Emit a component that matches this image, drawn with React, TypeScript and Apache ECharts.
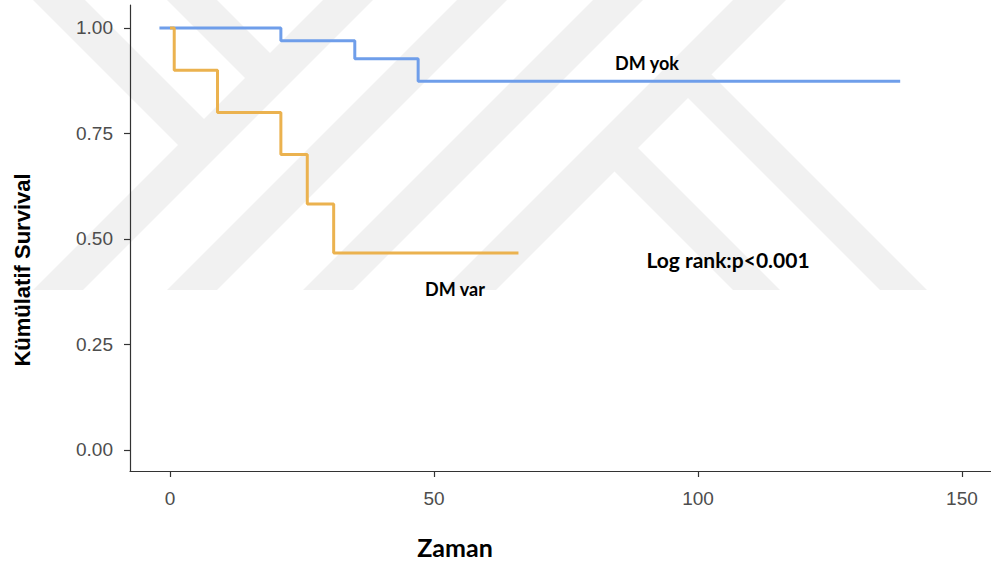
import React, { useEffect, useRef } from "react";
import * as echarts from "echarts";

// Kaplan-Meier step data (time, cumulative survival)
const dmYokTime = [-2, 21, 35, 47, 138.3];
const dmYokSurv = [1, 0.97, 0.927, 0.874, 0.874];
const dmVarTime = [0, 0.8, 9, 21, 26, 31, 66];
const dmVarSurv = [1, 0.9, 0.8, 0.7, 0.583, 0.467, 0.467];

const xTicks = [0, 50, 100, 150];
const yTicks = [0, 0.25, 0.5, 0.75, 1];

const seriesNames = ["DM yok", "DM var"];
const xTitle = "Zaman";
const yTitle = "Kümülatif Survival";
const pText = "Log rank:p<0.001";

const WM = "#f1f1f1";
const WB = 290;

function slashBand(c1: number, c2: number) {
  return {
    type: "polygon",
    silent: true,
    z: -10,
    shape: { points: [[c1, 0], [c2, 0], [c2 - WB, WB], [c1 - WB, WB]] },
    style: { fill: WM },
  };
}
function upperBack(d1: number, d2: number, s: number) {
  return {
    type: "polygon",
    silent: true,
    z: -10,
    shape: {
      points: [[d1, 0], [d2, 0], [(s + d2) / 2, (s - d2) / 2], [(s + d1) / 2, (s - d1) / 2]],
    },
    style: { fill: WM },
  };
}
function lowerBack(d1: number, d2: number, s: number) {
  return {
    type: "polygon",
    silent: true,
    z: -10,
    shape: {
      points: [[(s + d1) / 2, (s - d1) / 2], [(s + d2) / 2, (s - d2) / 2], [d2 + WB, WB], [d1 + WB, WB]],
    },
    style: { fill: WM },
  };
}

export default function App() {
  const ref = useRef<HTMLDivElement>(null);
  useEffect(() => {
    document.body.style.margin = "0";
    if (!ref.current) return;
    const chart = echarts.init(ref.current, undefined, { renderer: "svg" });
    const yok = dmYokTime.map((t, i) => [t, dmYokSurv[i]]);
    const vr = dmVarTime.map((t, i) => [t, dmVarSurv[i]]);
    const axisColor = "#333333";
    const labelStyle = {
      color: "#4d4d4d",
      fontSize: 19,
      fontFamily: "Liberation Sans, Arial, sans-serif",
    };
    chart.setOption({
      animation: false,
      backgroundColor: "#ffffff",
      grid: { left: 130, right: 0, top: 5, bottom: 91 },
      xAxis: {
        type: "value",
        min: -7.576,
        max: 155.5,
        splitLine: { show: false },
        axisLine: { show: true, onZero: false, lineStyle: { color: axisColor, width: 1.2 } },
        axisTick: { show: true, length: 6, customValues: xTicks, lineStyle: { color: axisColor, width: 1.2 } },
        axisLabel: { ...labelStyle, margin: 18, customValues: xTicks, formatter: (v: number) => String(v) },
      },
      yAxis: {
        type: "value",
        min: -0.0498,
        max: 1.0545,
        splitLine: { show: false },
        axisLine: { show: true, onZero: false, lineStyle: { color: axisColor, width: 1.2 } },
        axisTick: { show: true, length: 6, customValues: yTicks, lineStyle: { color: axisColor, width: 1.2 } },
        axisLabel: { ...labelStyle, margin: 17, customValues: yTicks, formatter: (v: number) => v.toFixed(2) },
      },
      series: [
        {
          name: seriesNames[0],
          type: "line",
          step: "end",
          data: yok,
          showSymbol: false,
          lineStyle: { color: "#6f9eea", width: 3 },
          itemStyle: { color: "#6f9eea" },
          z: 3,
        },
        {
          name: seriesNames[1],
          type: "line",
          step: "end",
          data: vr,
          showSymbol: false,
          lineStyle: { color: "#ebb24f", width: 3 },
          itemStyle: { color: "#ebb24f" },
          z: 4,
        },
      ],
      graphic: [
        slashBand(323, 373),
        slashBand(457, 507),
        slashBand(593, 643),
        slashBand(733, 786),
        upperBack(33, 85, 348),
        upperBack(167, 217, 348),
        lowerBack(443, 490, 760),
        lowerBack(590, 637, 760),
        {
          type: "text",
          x: 647,
          y: 63,
          style: {
            text: seriesNames[0],
            font: "bold 18px Lato, sans-serif",
            fill: "#000",
            align: "center",
            verticalAlign: "middle",
          },
        },
        {
          type: "text",
          x: 455,
          y: 289,
          style: {
            text: seriesNames[1],
            font: "bold 18px Lato, sans-serif",
            fill: "#000",
            align: "center",
            verticalAlign: "middle",
          },
        },
        {
          type: "text",
          x: 728,
          y: 259,
          style: {
            text: pText,
            font: "bold 21px Lato, sans-serif",
            fill: "#000",
            align: "center",
            verticalAlign: "middle",
          },
        },
        {
          type: "text",
          x: 455,
          y: 547,
          style: {
            text: xTitle,
            font: "bold 25px Lato, sans-serif",
            fill: "#000",
            align: "center",
            verticalAlign: "middle",
          },
        },
        {
          type: "text",
          x: 22,
          y: 270,
          rotation: Math.PI / 2,
          style: {
            text: yTitle,
            font: "bold 22px 'Liberation Sans', Arial, sans-serif",
            fill: "#000",
            align: "center",
            verticalAlign: "middle",
          },
        },
      ],
    });
    return () => chart.dispose();
  }, []);
  return <div ref={ref} style={{ width: 991, height: 562 }} />;
}
